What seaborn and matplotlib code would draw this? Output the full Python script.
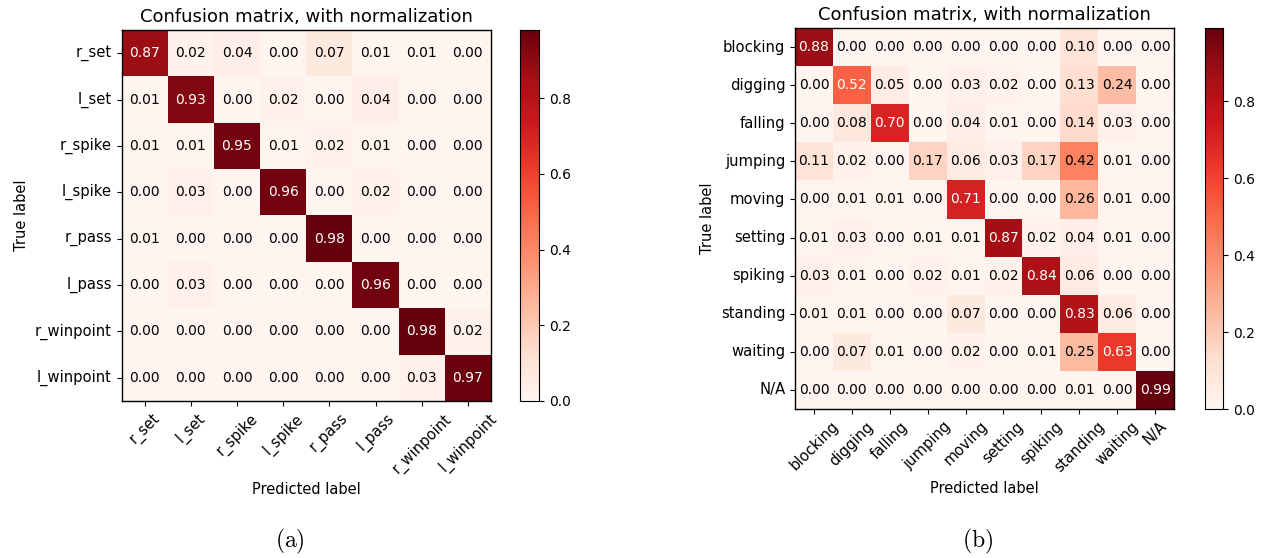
import numpy as np
import pandas as pd
import matplotlib
matplotlib.use("Agg")
import matplotlib.pyplot as plt
import seaborn as sns

plt.rcParams['mathtext.fontset'] = 'cm'

# (a) volleyball event classes
labels_a = ['r_set', 'l_set', 'r_spike', 'l_spike', 'r_pass', 'l_pass', 'r_winpoint', 'l_winpoint']
cm_a = [
    [0.87, 0.02, 0.04, 0.00, 0.07, 0.01, 0.01, 0.00],
    [0.01, 0.93, 0.00, 0.02, 0.00, 0.04, 0.00, 0.00],
    [0.01, 0.01, 0.95, 0.01, 0.02, 0.01, 0.00, 0.00],
    [0.00, 0.03, 0.00, 0.96, 0.00, 0.02, 0.00, 0.00],
    [0.01, 0.00, 0.00, 0.00, 0.98, 0.00, 0.00, 0.00],
    [0.00, 0.03, 0.00, 0.00, 0.00, 0.96, 0.00, 0.00],
    [0.00, 0.00, 0.00, 0.00, 0.00, 0.00, 0.98, 0.02],
    [0.00, 0.00, 0.00, 0.00, 0.00, 0.00, 0.03, 0.97],
]

# (b) player action classes
labels_b = ['blocking', 'digging', 'falling', 'jumping', 'moving', 'setting',
            'spiking', 'standing', 'waiting', 'N/A']
cm_b = [
    [0.88, 0.00, 0.00, 0.00, 0.00, 0.00, 0.00, 0.10, 0.00, 0.00],
    [0.00, 0.52, 0.05, 0.00, 0.03, 0.02, 0.00, 0.13, 0.24, 0.00],
    [0.00, 0.08, 0.70, 0.00, 0.04, 0.01, 0.00, 0.14, 0.03, 0.00],
    [0.11, 0.02, 0.00, 0.17, 0.06, 0.03, 0.17, 0.42, 0.01, 0.00],
    [0.00, 0.01, 0.01, 0.00, 0.71, 0.00, 0.00, 0.26, 0.01, 0.00],
    [0.01, 0.03, 0.00, 0.01, 0.01, 0.87, 0.02, 0.04, 0.01, 0.00],
    [0.03, 0.01, 0.00, 0.02, 0.01, 0.02, 0.84, 0.06, 0.00, 0.00],
    [0.01, 0.01, 0.00, 0.00, 0.07, 0.00, 0.00, 0.83, 0.06, 0.00],
    [0.00, 0.07, 0.01, 0.00, 0.02, 0.00, 0.01, 0.25, 0.63, 0.00],
    [0.00, 0.00, 0.00, 0.00, 0.00, 0.00, 0.00, 0.01, 0.00, 0.99],
]


def plot_cm(ax, cax, cm, labels, caption, cap_x):
    df = pd.DataFrame(cm, index=labels, columns=labels)
    vmax = df.values.max()
    sns.heatmap(df, ax=ax, cbar_ax=cax, cmap='Reds', vmin=0, vmax=vmax,
                annot=True, fmt='.2f', annot_kws={'fontsize': 10}, square=False)
    # matplotlib-style text colour: white above half of max
    thresh = vmax / 2.
    vals = df.values.flatten()
    for t, v in zip(ax.texts, vals):
        t.set_color('white' if v > thresh else 'black')
    for s in ax.spines.values():
        s.set_visible(True)
        s.set_linewidth(1.0)
    ax.set_title('Confusion matrix, with normalization', fontsize=13)
    ax.set_ylabel('True label', fontsize=10.5)
    ax.set_xlabel('Predicted label', fontsize=10.5)
    ax.set_xticklabels(labels, rotation=45, ha='center', fontsize=10.6)
    ax.set_yticklabels(labels, rotation=0, fontsize=10.6)
    ax.tick_params(length=3.5, width=0.8)
    cax.tick_params(labelsize=10, length=3.5, width=0.8)
    cax.set_yticks([0.0, 0.2, 0.4, 0.6, 0.8])
    for s in cax.spines.values():
        s.set_visible(True)
    cax.figure.text(cap_x, 0.03, caption, fontsize=17, ha='center', va='center')


fig = plt.figure(figsize=(12.71, 5.58), dpi=100)
ax_a = fig.add_axes([0.0956, 0.2814, 0.2907, 0.6649])
cax_a = fig.add_axes([0.4091, 0.2814, 0.0149, 0.6649])
ax_b = fig.add_axes([0.6255, 0.2670, 0.2982, 0.6828])
cax_b = fig.add_axes([0.9480, 0.2670, 0.0142, 0.6828])

plot_cm(ax_a, cax_a, cm_a, labels_a, r'$\mathrm{(a)}$', 0.228)
plot_cm(ax_b, cax_b, cm_b, labels_b, r'$\mathrm{(b)}$', 0.769)

fig.savefig('out.png', dpi=100)
